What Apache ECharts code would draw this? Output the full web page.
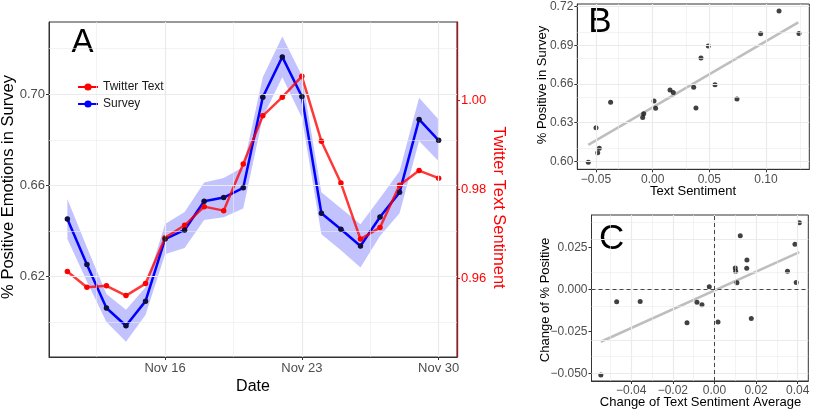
<!DOCTYPE html>
<html>
<head>
<meta charset="utf-8">
<script src="https://cdn.jsdelivr.net/npm/echarts@6/dist/echarts.min.js"></script>
<style>
html, body { margin: 0; padding: 0; background: #fff; }
#chart { width: 813px; height: 415px; }
</style>
</head>
<body>
<div id="chart"></div>
<script>
// panel A: daily values, Nov 11 - Nov 30
var days = [11, 12, 13, 14, 15, 16, 17, 18, 19, 20, 21, 22, 23, 24, 25, 26, 27, 28, 29, 30];
var survey = [0.6453, 0.6254, 0.6063, 0.5985, 0.6093, 0.6365, 0.6405, 0.6531, 0.6547, 0.6590,
              0.6987, 0.7164, 0.6990, 0.6478, 0.6408, 0.6335, 0.6462, 0.6570, 0.6890, 0.6798];
var surveyLow = [0.6365, 0.6179, 0.6002, 0.5915, 0.6032, 0.6299, 0.6326, 0.6449, 0.6461, 0.6499,
                 0.6899, 0.7075, 0.6898, 0.6386, 0.6316, 0.6240, 0.6379, 0.6478, 0.6795, 0.6706];
var surveyHigh = [0.6541, 0.6329, 0.6124, 0.6055, 0.6154, 0.6431, 0.6484, 0.6613, 0.6633, 0.6681,
                  0.7075, 0.7253, 0.7082, 0.6570, 0.6500, 0.6430, 0.6545, 0.6662, 0.6985, 0.6890];
var twitter = [0.9616, 0.9581, 0.9584, 0.9562, 0.9589, 0.9692, 0.9720, 0.9762, 0.9753, 0.9858,
               0.9966, 1.0008, 1.0055, 0.9909, 0.9815, 0.9689, 0.9715, 0.9810, 0.9843, 0.9826];
var dateTicks = [16, 23, 30];
var dateMinor = [12.5, 19.5, 26.5];
var surveyTicks = [0.62, 0.66, 0.70];
var surveyMinor = [0.60, 0.64, 0.68, 0.72];
var twitterTicks = [0.96, 0.98, 1.00];

// panel B: text sentiment vs survey
var bSentiment = [-0.0568, -0.0485, -0.0471, -0.0500, -0.0371, -0.0088, -0.0079, 0.0012, 0.0026, 0.0153,
                  0.0182, 0.0362, 0.0382, 0.0426, 0.0491, 0.0550, 0.0744, 0.0953, 0.1115, 0.1291];
var bPositive = [0.5992, 0.6067, 0.6101, 0.6261, 0.6458, 0.6341, 0.6370, 0.6468, 0.6411, 0.6553,
                 0.6535, 0.6574, 0.6414, 0.6802, 0.6895, 0.6595, 0.6484, 0.6991, 0.7166, 0.6993];
var bFitX = [-0.0568, 0.1285];
var bFitY = [0.6127, 0.7078];
var bTicksX = [-0.05, 0, 0.05, 0.10];
var bMinorX = [-0.025, 0.025, 0.075, 0.125];
var bTicksY = [0.60, 0.63, 0.66, 0.69, 0.72];
var bMinorY = [0.615, 0.645, 0.675, 0.705];

// panel C: day-to-day changes
var cSentiment = [-0.0546, -0.0470, -0.0357, -0.0132, -0.0084, -0.0060, -0.0025, 0.0017, 0.0100, 0.0102,
                  0.0108, 0.0124, 0.0156, 0.0155, 0.0177, 0.0351, 0.0387, 0.0393, 0.0408];
var cPositive = [-0.0510, -0.0074, -0.0072, -0.0198, -0.0076, -0.0092, 0.0016, -0.0194, 0.0128, 0.0108,
                 0.0040, 0.0320, 0.0176, 0.0126, -0.0174, 0.0108, 0.0270, 0.0042, 0.0398];
var cFitX = [-0.0546, 0.0408];
var cFitY = [-0.0312, 0.0222];
var cTicksX = [-0.04, -0.02, 0, 0.02, 0.04];
var cMinorX = [-0.05, -0.03, -0.01, 0.01, 0.03];
var cTicksY = [-0.05, -0.025, 0, 0.025];
var cMinorY = [-0.0375, -0.0125, 0.0125, 0.0375];

var FONT = '"Liberation Sans", Arial, Helvetica, sans-serif';
var GRID_COLOR = '#ebebeb';

function pairs(xs, ys) {
    return xs.map(function (x, i) { return [x, ys[i]]; });
}
function gridLines(major, minor, key) {
    var out = [];
    minor.forEach(function (v) {
        var o = { lineStyle: { color: GRID_COLOR, width: 0.6, type: 'solid' } };
        o[key] = v;
        out.push(o);
    });
    major.forEach(function (v) {
        var o = { lineStyle: { color: GRID_COLOR, width: 1.2, type: 'solid' } };
        o[key] = v;
        out.push(o);
    });
    return out;
}
function fmt(d) {
    return function (v) { return v.toFixed(d).replace('-', '\u2212'); };
}
function valueAxis(grid, min, max, ticks, digits, extra) {
    var ax = {
        gridIndex: grid,
        type: 'value',
        min: min,
        max: max,
        splitLine: { show: false },
        axisLine: { show: true, onZero: false, lineStyle: { color: '#333', width: 1 } },
        axisTick: { show: true, length: 3, customValues: ticks, lineStyle: { color: '#333' } },
        axisLabel: { customValues: ticks, formatter: fmt(digits), color: '#4d4d4d', fontSize: 12, fontFamily: FONT, margin: 4 }
    };
    for (var k in extra) { ax[k] = extra[k]; }
    return ax;
}
function gridSeries(xi, yi, lines) {
    return {
        type: 'line', xAxisIndex: xi, yAxisIndex: yi, data: [], silent: true, z: 1,
        markLine: { silent: true, symbol: ['none', 'none'], label: { show: false }, animation: false, data: lines }
    };
}
function title(text, x, y, rot, size, color) {
    return {
        type: 'text', x: x, y: y, rotation: rot || 0, silent: true,
        style: { text: text, fill: color || '#000', font: size + 'px ' + FONT, textAlign: 'center', textVerticalAlign: 'middle' }
    };
}

var chart = echarts.init(document.getElementById('chart'));

var xA = valueAxis(0, 10.06, 30.94, dateTicks, 0, {});
xA.axisLabel = { customValues: dateTicks, formatter: function (v) { return 'Nov ' + v; },
                 color: '#4d4d4d', fontSize: 13, fontFamily: FONT, margin: 5 };
var yA = valueAxis(0, 0.5848, 0.7317, surveyTicks, 2, { position: 'left' });
yA.axisLabel.fontSize = 13;
var yA2 = valueAxis(0, 0.9424, 1.0177, twitterTicks, 2, { position: 'right' });
yA2.axisLine = { show: true, onZero: false, lineStyle: { color: '#ff0000', width: 1.4 } };
yA2.axisTick.lineStyle = { color: '#ff0000' };
yA2.axisLabel.color = '#ff0000';
yA2.axisLabel.fontSize = 13;

var option = {
    animation: false,
    textStyle: { fontFamily: FONT },
    grid: [
        { left: 49, top: 22, width: 408, height: 335, show: true, borderColor: '#333', borderWidth: 1, z: 3 },
        { left: 577.3, top: 4, width: 232, height: 165.3, show: true, borderColor: '#333', borderWidth: 1, z: 3 },
        { left: 591.5, top: 215, width: 216.8, height: 166, show: true, borderColor: '#333', borderWidth: 1, z: 3 }
    ],
    xAxis: [
        xA,
        valueAxis(1, -0.0665, 0.1382, bTicksX, 2, {}),
        valueAxis(2, -0.0591, 0.0451, cTicksX, 2, {})
    ],
    yAxis: [
        yA,
        yA2,
        valueAxis(1, 0.5938, 0.7221, bTicksY, 2, {}),
        valueAxis(2, -0.0546, 0.0444, cTicksY, 3, {})
    ],
    legend: {
        data: [
            { name: 'Twitter Text', lineStyle: { opacity: 1 } },
            { name: 'Survey' }
        ],
        orient: 'vertical',
        left: 72,
        top: 76,
        itemWidth: 20,
        itemHeight: 9,
        itemGap: 5,
        selectedMode: false,
        textStyle: { fontSize: 12, color: '#1a1a1a', fontFamily: FONT }
    },
    graphic: [
        title('A', 82.5, 43, 0, 33),
        title('B', 600, 22.5, 0, 35),
        title('C', 611.7, 239, 0, 35),
        title('% Positive Emotions in Survey', 8, 187, Math.PI / 2, 16.5),
        title('Date', 253, 386.7, 0, 16),
        title('Twitter Text Sentiment', 499, 207.5, -Math.PI / 2, 16.5, '#ff0000'),
        title('% Positive in Survey', 542.7, 85, Math.PI / 2, 13),
        title('Text Sentiment', 693, 191.7, 0, 13),
        title('Change of % Positive', 545, 300, Math.PI / 2, 13),
        title('Change of Text Sentiment Average', 700.5, 402.7, 0, 13)
    ],
    series: [
        // panel A
        gridSeries(0, 0, gridLines(surveyTicks, surveyMinor, 'yAxis').concat(gridLines(dateTicks, dateMinor, 'xAxis'))),
        {
            // confidence ribbon: one polygon, upper edge then lower edge reversed
            name: 'ciBand', type: 'custom', xAxisIndex: 0, yAxisIndex: 0, silent: true, z: 2,
            data: days.map(function (d, i) { return [d, surveyLow[i], surveyHigh[i]]; }),
            encode: { x: 0, y: [1, 2] },
            renderItem: function (params, api) {
                if (params.dataIndex !== 0) { return null; }
                var pts = [];
                for (var i = 0; i < days.length; i++) { pts.push(api.coord([days[i], surveyHigh[i]])); }
                for (var j = days.length - 1; j >= 0; j--) { pts.push(api.coord([days[j], surveyLow[j]])); }
                return { type: 'polygon', shape: { points: pts }, style: { fill: 'rgba(0,0,255,0.24)' } };
            }
        },
        {
            name: 'Survey', type: 'line', xAxisIndex: 0, yAxisIndex: 0,
            data: pairs(days, survey), symbol: 'circle', symbolSize: 5,
            itemStyle: { color: '#0000ff' },
            lineStyle: { color: '#0000ff', width: 2.5 }, z: 3
        },
        {
            name: 'Twitter Text', type: 'line', xAxisIndex: 0, yAxisIndex: 1,
            data: pairs(days, twitter), symbol: 'circle', symbolSize: 5.5,
            itemStyle: { color: '#ff0000' },
            lineStyle: { color: '#ff0000', width: 2.5, opacity: 0.78 }, z: 4
        },
        {
            name: 'surveyPoints', type: 'scatter', xAxisIndex: 0, yAxisIndex: 0,
            data: pairs(days, survey), symbolSize: 5.5,
            itemStyle: { color: '#111' }, z: 5
        },
        // panel B
        gridSeries(1, 2, gridLines(bTicksY, bMinorY, 'yAxis').concat(gridLines(bTicksX, bMinorX, 'xAxis'))),
        {
            name: 'fitB', type: 'line', xAxisIndex: 1, yAxisIndex: 2,
            data: pairs(bFitX, bFitY), symbol: 'none', silent: true,
            lineStyle: { color: '#bebebe', width: 2.5 }, z: 3
        },
        {
            name: 'pointsB', type: 'scatter', xAxisIndex: 1, yAxisIndex: 2,
            data: pairs(bSentiment, bPositive), symbolSize: 5,
            itemStyle: { color: '#111' }, z: 4
        },
        // panel C
        gridSeries(2, 3, gridLines(cTicksY, cMinorY, 'yAxis').concat(gridLines(cTicksX, cMinorX, 'xAxis')).concat([
            { yAxis: 0, lineStyle: { color: '#333', width: 0.9, type: [4, 3] } },
            { xAxis: 0, lineStyle: { color: '#333', width: 0.9, type: [4, 3] } }
        ])),
        {
            name: 'fitC', type: 'line', xAxisIndex: 2, yAxisIndex: 3,
            data: pairs(cFitX, cFitY), symbol: 'none', silent: true,
            lineStyle: { color: '#bebebe', width: 2.5 }, z: 3
        },
        {
            name: 'pointsC', type: 'scatter', xAxisIndex: 2, yAxisIndex: 3,
            data: pairs(cSentiment, cPositive), symbolSize: 5,
            itemStyle: { color: '#111' }, z: 4
        }
    ]
};
chart.setOption(option);
</script>
</body>
</html>
